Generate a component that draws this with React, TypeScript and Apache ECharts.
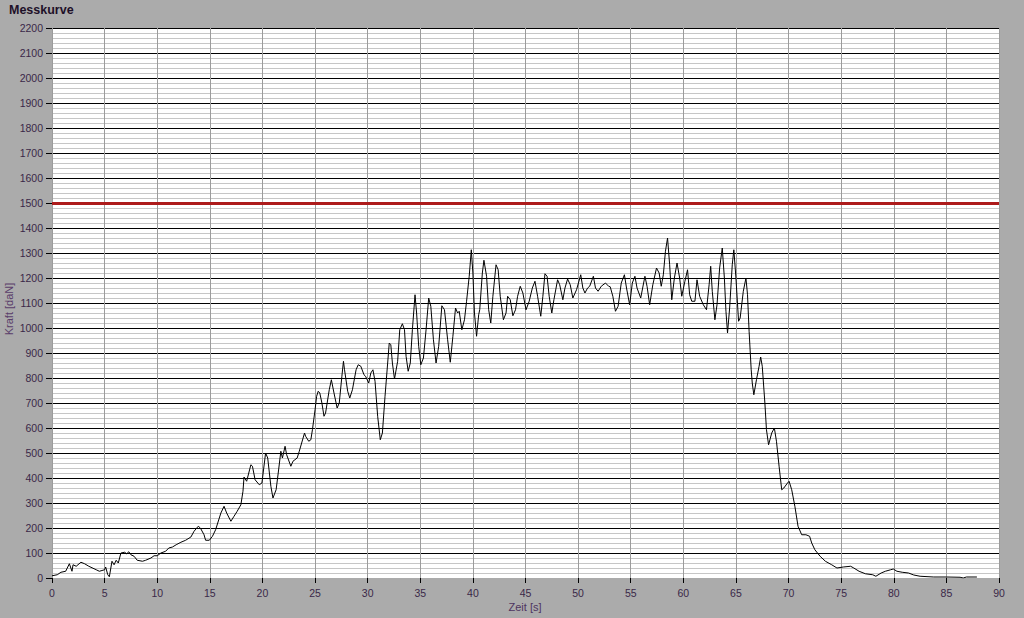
import React, { useEffect, useRef } from "react";
import * as echarts from "echarts";

// time [s], force [daN]
const rampUp: [number, number][] = [
  [0, 9], [0.5, 13], [0.85, 23], [1.3, 27], [1.65, 57], [1.9, 27], [2.0, 53], [2.3, 47], [2.75, 63], [3.1, 57],
  [3.5, 47], [4.2, 33], [4.5, 27], [5.0, 33], [5.1, 44], [5.3, 13], [5.45, 5], [5.7, 67], [5.9, 53], [6.1, 71],
  [6.3, 60], [6.55, 100], [6.9, 103], [7.1, 97], [7.3, 105], [7.5, 93], [7.8, 87], [8.1, 71], [8.6, 67], [8.9, 71],
  [9.4, 80], [9.7, 89], [10.0, 89], [10.35, 100], [10.8, 107], [11.1, 120], [11.45, 124], [11.8, 133], [12.25, 143],
  [12.7, 151], [13.2, 164], [13.5, 187], [13.9, 207], [14.1, 200], [14.45, 173], [14.6, 151], [14.95, 151],
  [15.25, 167], [15.55, 193], [16.05, 260], [16.35, 287], [16.6, 260], [17.0, 227], [17.3, 247], [17.6, 267],
  [17.95, 293], [18.15, 347], [18.25, 404], [18.5, 387], [18.9, 453], [19.05, 447], [19.3, 393], [19.7, 373],
  [19.95, 380], [20.3, 500], [20.5, 480], [20.8, 367], [21.0, 320], [21.3, 353], [21.5, 420], [21.75, 507],
  [21.9, 480], [22.15, 527], [22.3, 493], [22.7, 447], [22.9, 467], [23.3, 480], [23.5, 507], [24.0, 580],
  [24.1, 567], [24.4, 547], [24.6, 553], [24.75, 593],
];

const oscillation: [number, number][] = [
  [25.0, 673], [25.15, 727], [25.3, 747], [25.45, 740], [25.65, 700], [25.85, 647], [26.0, 660], [26.35, 753],
  [26.55, 793], [26.8, 740], [27.1, 680], [27.3, 700], [27.55, 807], [27.7, 867], [27.8, 833], [28.1, 747],
  [28.3, 720], [28.55, 753], [28.9, 833], [29.1, 853], [29.35, 847], [29.65, 813], [29.8, 807], [30.1, 780],
  [30.3, 820], [30.5, 833], [30.7, 787], [30.95, 647], [31.2, 553], [31.4, 580], [31.65, 727], [31.9, 860],
  [32.05, 940], [32.2, 933], [32.35, 860], [32.55, 796], [32.85, 867], [33.05, 993], [33.3, 1017], [33.5, 993],
  [33.65, 887], [33.85, 827], [34.05, 860], [34.25, 993], [34.5, 1133], [34.65, 1060], [34.85, 927], [35.05, 853],
  [35.3, 880], [35.55, 993], [35.8, 1120], [36.0, 1087], [36.25, 953], [36.5, 860], [36.75, 927], [37.05, 1089],
  [37.3, 1073], [37.6, 953], [37.85, 863], [38.1, 967], [38.35, 1080], [38.55, 1060], [38.7, 1067], [38.95, 993],
  [39.2, 1033], [39.4, 1107], [39.65, 1207], [39.85, 1313], [40.0, 1220], [40.15, 1060], [40.35, 967], [40.55, 1053],
];

const plateau: [number, number][] = [
  [40.65, 1073], [40.9, 1220], [41.05, 1271], [41.3, 1207], [41.5, 1073], [41.7, 1020], [41.9, 1127], [42.2, 1253],
  [42.4, 1233], [42.6, 1127], [42.9, 1033], [43.15, 1060], [43.3, 1127], [43.55, 1113], [43.8, 1049], [44.05, 1073],
  [44.25, 1127], [44.5, 1167], [44.75, 1140], [45.05, 1073], [45.35, 1107], [45.65, 1160], [45.9, 1187],
  [46.15, 1127], [46.45, 1047], [46.65, 1127], [46.85, 1217], [47.05, 1207], [47.25, 1127], [47.5, 1060],
  [47.7, 1113], [48.05, 1193], [48.25, 1173], [48.55, 1113], [48.75, 1160], [49.0, 1196], [49.25, 1173],
  [49.5, 1120], [49.85, 1153], [50.25, 1213], [50.45, 1160], [50.65, 1140], [50.9, 1160], [51.1, 1167],
  [51.45, 1207], [51.65, 1160], [51.9, 1147], [52.2, 1167], [52.6, 1180], [52.9, 1167], [53.05, 1165],
  [53.3, 1127], [53.55, 1067], [53.8, 1087], [54.1, 1180], [54.4, 1213], [54.6, 1160], [54.9, 1093],
  [55.15, 1180], [55.4, 1207], [55.6, 1160], [55.95, 1120], [56.35, 1207], [56.55, 1167], [56.8, 1093],
  [57.1, 1173], [57.45, 1240], [57.7, 1220], [57.9, 1167], [58.1, 1213], [58.3, 1307], [58.5, 1360],
  [58.7, 1253], [58.9, 1113], [59.15, 1200], [59.4, 1260], [59.65, 1200], [59.85, 1127], [60.15, 1187],
  [60.4, 1233], [60.6, 1133], [60.8, 1107], [61.1, 1107], [61.3, 1193], [61.55, 1127], [61.9, 1093],
  [62.2, 1073], [62.45, 1173], [62.6, 1247], [62.75, 1147], [63.0, 1033], [63.2, 1093], [63.45, 1240],
  [63.7, 1320], [63.9, 1200], [64.05, 1067], [64.2, 980], [64.4, 1080], [64.65, 1253], [64.8, 1313],
  [65.0, 1200], [65.25, 1027], [65.4, 1040], [65.7, 1147], [65.95, 1200], [66.1, 1133], [66.25, 987],
];

const decline: [number, number][] = [
  [66.45, 833], [66.55, 780], [66.7, 733], [66.95, 793], [67.2, 847], [67.35, 884], [67.5, 847], [67.75, 700],
  [67.9, 593], [68.1, 533], [68.4, 580], [68.65, 600], [68.85, 547], [69.1, 447], [69.35, 353], [69.55, 360],
  [69.9, 380], [70.05, 387], [70.3, 353], [70.6, 287], [70.9, 207], [71.25, 173], [71.65, 173], [72.0, 167],
  [72.2, 140], [72.5, 113], [73.0, 87], [73.5, 67], [74.1, 53], [74.6, 40], [75.2, 44], [75.9, 47], [76.2, 40],
  [76.7, 27], [77.3, 17], [78.0, 13], [78.3, 7], [78.8, 20], [79.2, 27], [79.7, 33], [79.95, 36], [80.3, 27],
  [80.8, 23], [81.4, 20], [81.9, 12], [82.5, 7], [83.8, 4], [85.0, 4], [86.3, 3], [86.6, 0], [86.9, 4], [87.9, 4],
];

const limitForce = 1500;
const timeAxis = { min: 0, max: 90, step: 5 };
const forceAxis = { min: 0, max: 2200, step: 100 };

const labelFont = "Liberation Sans, Arial, sans-serif";

export default function App() {
  const ref = useRef<HTMLDivElement>(null);
  useEffect(() => {
    document.body.style.margin = "0";
    const chart = echarts.init(ref.current!, null, { renderer: "svg" });
    const data = [...rampUp, ...oscillation, ...plateau, ...decline];
    chart.setOption({
      animation: false,
      backgroundColor: "#ababab",
      textStyle: { fontFamily: labelFont },
      grid: {
        left: 52,
        right: 25,
        top: 28,
        bottom: 40,
        show: true,
        backgroundColor: "#ffffff",
        borderWidth: 0,
      },
      xAxis: {
        type: "value",
        min: timeAxis.min,
        max: timeAxis.max,
        interval: timeAxis.step,
        axisLine: { show: false },
        axisTick: { show: true, length: 5, lineStyle: { color: "#000000" } },
        axisLabel: {
          color: "#3a2848",
          fontSize: 10.5,
          margin: 9,
          fontFamily: labelFont,
          formatter: (v: number) => String(v),
        },
        splitLine: { show: true, lineStyle: { color: "#9c9c9c", width: 1 } },
      },
      yAxis: {
        type: "value",
        min: forceAxis.min,
        max: forceAxis.max,
        interval: forceAxis.step,
        axisLine: { show: false },
        axisTick: { show: true, length: 6, lineStyle: { color: "#000000" } },
        axisLabel: {
          color: "#3a2848",
          fontSize: 10.5,
          margin: 9,
          fontFamily: labelFont,
          formatter: (v: number) => String(v),
        },
        splitLine: { show: true, showMinLine: false, lineStyle: { color: "#000000", width: 1 } },
        minorTick: { show: false, splitNumber: 5 },
        minorSplitLine: { show: true, lineStyle: { color: "#c6c6c6", width: 1 } },
      },
      series: [
        {
          type: "line",
          data,
          showSymbol: false,
          symbol: "none",
          silent: true,
          lineStyle: { color: "#000000", width: 1 },
          markLine: {
            silent: true,
            symbol: "none",
            label: { show: false },
            lineStyle: { color: "#ad1a1a", width: 3, type: "solid" },
            data: [{ yAxis: limitForce }],
          },
        },
      ],
      graphic: [
        {
          type: "text",
          x: 9,
          y: 3,
          style: { text: "Messkurve", font: `bold 12.5px ${labelFont}`, fill: "#1e1028" },
        },
        {
          type: "text",
          x: 525,
          y: 607,
          style: {
            text: "Zeit [s]",
            font: `11px ${labelFont}`,
            fill: "#4e3460",
            align: "center",
            verticalAlign: "middle",
          },
        },
        {
          type: "text",
          x: 9,
          y: 309,
          rotation: Math.PI / 2,
          style: {
            text: "Kraft [daN]",
            font: `11px ${labelFont}`,
            fill: "#5a3d6a",
            align: "center",
            verticalAlign: "middle",
          },
        },
      ],
    });
    return () => chart.dispose();
  }, []);
  return (
    <div
      ref={ref}
      style={{ position: "fixed", left: 0, top: 0, width: 1024, height: 618, background: "#ababab" }}
    />
  );
}
